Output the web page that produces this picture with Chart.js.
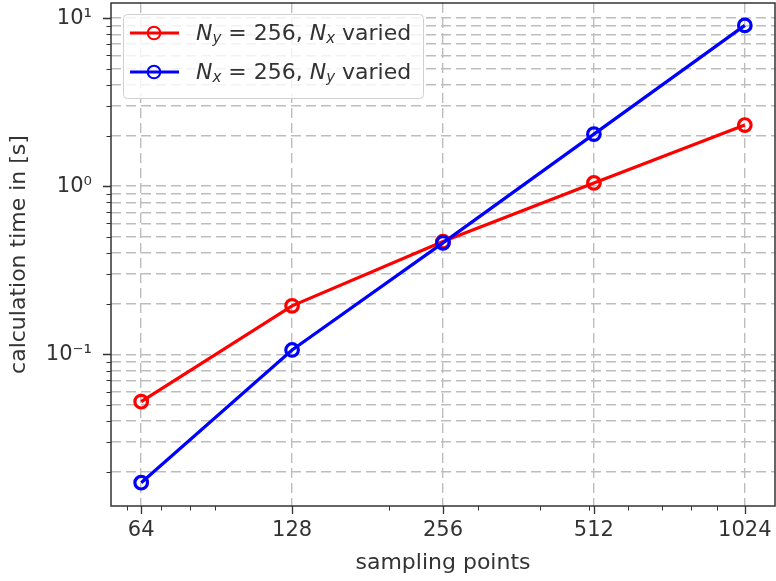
<!DOCTYPE html>
<html>
<head>
<meta charset="utf-8">
<title>calculation time vs sampling points</title>
<script src="https://cdn.jsdelivr.net/npm/chart.js@4.4.1/dist/chart.umd.min.js"></script>
<style>
  html, body { margin: 0; padding: 0; background: #fff; }
  #wrap { width: 776px; height: 581px; position: relative; }
</style>
</head>
<body>
<div id="wrap"><canvas id="timing"></canvas></div>
<script>
// ===== DATA =====
const samplingPoints = [64, 128, 256, 512, 1024];
// Ny = 256 fixed, Nx varied (seconds)
const timeNxVaried = [0.0522, 0.194, 0.468, 1.045, 2.31];
// Nx = 256 fixed, Ny varied (seconds)
const timeNyVaried = [0.0172, 0.106, 0.460, 2.04, 9.05];

const xTickValues = [64, 128, 256, 512, 1024];
const xTickLabels = ['64', '128', '256', '512', '1024'];
const xMinorValues = [60, 70, 80, 90, 200, 300, 400, 500, 600, 700, 800, 900];
const yDecadeValues = [0.1, 1, 10];
const yDecadeLabels = ['10⁻¹', '10⁰', '10¹'];
const yMinorValues = [0.02, 0.03, 0.04, 0.05, 0.06, 0.07, 0.08, 0.09,
                      0.2, 0.3, 0.4, 0.5, 0.6, 0.7, 0.8, 0.9,
                      2, 3, 4, 5, 6, 7, 8, 9];

// ===== STYLE =====
const FONT = 'DejaVu Sans';
const TEXT = '#333333';
const GRID = '#bdbdbd';
const RED = '#ff0000';
const BLUE = '#0000ff';

// axis limits with a small margin around the data (log space)
const xMin = Math.pow(2, 5.8);
const xMax = Math.pow(2, 10.2);
const yMin = 0.0125;
const yMax = 12.3;

// frame + outward tick marks (major long, minor short)
const frameAndTicks = {
    id: 'frameAndTicks',
    afterDraw(chart) {
        const { ctx, chartArea: a, scales: { x, y } } = chart;
        ctx.save();
        ctx.strokeStyle = TEXT;

        ctx.lineWidth = 1.3;
        ctx.beginPath();
        xTickValues.forEach(v => {
            const px = Math.round(x.getPixelForValue(v)) + 0.5;
            ctx.moveTo(px, a.bottom);
            ctx.lineTo(px, a.bottom + 8);
        });
        yDecadeValues.forEach(v => {
            const py = Math.round(y.getPixelForValue(v)) + 0.5;
            ctx.moveTo(a.left, py);
            ctx.lineTo(a.left - 8, py);
        });
        ctx.stroke();

        ctx.lineWidth = 1;
        ctx.beginPath();
        xMinorValues.forEach(v => {
            const px = Math.round(x.getPixelForValue(v)) + 0.5;
            ctx.moveTo(px, a.bottom);
            ctx.lineTo(px, a.bottom + 4.5);
        });
        yMinorValues.forEach(v => {
            const py = Math.round(y.getPixelForValue(v)) + 0.5;
            ctx.moveTo(a.left, py);
            ctx.lineTo(a.left - 4.5, py);
        });
        ctx.stroke();

        ctx.lineWidth = 1.5;
        ctx.strokeRect(a.left, a.top, a.right - a.left, a.bottom - a.top);
        ctx.restore();
    }
};

// legend with italic N and subscripts
function drawMathLabel(ctx, x, y, parts) {
    parts.forEach(p => {
        if (p.sub) {
            ctx.font = 'italic 15px "' + FONT + '"';
            ctx.fillText(p.text, x, y + 5);
        } else {
            ctx.font = (p.italic ? 'italic ' : '') + '22px "' + FONT + '"';
            ctx.fillText(p.text, x, y);
        }
        x += ctx.measureText(p.text).width;
    });
}

const mathLegend = {
    id: 'mathLegend',
    afterDraw(chart) {
        const ctx = chart.ctx;
        const box = { x: 123.5, y: 14.5, w: 300, h: 84 };
        ctx.save();
        ctx.beginPath();
        ctx.roundRect(box.x, box.y, box.w, box.h, 4);
        ctx.fillStyle = 'rgba(255,255,255,0.8)';
        ctx.fill();
        ctx.strokeStyle = '#d0d0d0';
        ctx.lineWidth = 1;
        ctx.stroke();

        const rows = [
            { color: RED, y: 33, label: [
                { text: 'N', italic: true }, { text: 'y', sub: true },
                { text: ' = 256, ' }, { text: 'N', italic: true }, { text: 'x', sub: true },
                { text: ' varied' }] },
            { color: BLUE, y: 72, label: [
                { text: 'N', italic: true }, { text: 'x', sub: true },
                { text: ' = 256, ' }, { text: 'N', italic: true }, { text: 'y', sub: true },
                { text: ' varied' }] }
        ];
        rows.forEach(r => {
            ctx.strokeStyle = r.color;
            ctx.lineWidth = 3.2;
            ctx.beginPath();
            ctx.moveTo(130, r.y);
            ctx.lineTo(179, r.y);
            ctx.stroke();
            ctx.lineWidth = 2;
            ctx.beginPath();
            ctx.arc(154, r.y, 6.3, 0, Math.PI * 2);
            ctx.stroke();

            ctx.fillStyle = TEXT;
            ctx.textBaseline = 'middle';
            drawMathLabel(ctx, 196, r.y + 1, r.label);
        });
        ctx.restore();
    }
};

// fixed axis sizes
function fixX(s) {
    s.height = 75;
    s.paddingLeft = 0;
    s.paddingRight = 0;
}
function fixY(s) {
    s.width = 111;
    s.paddingTop = 0;
    s.paddingBottom = 0;
}

new Chart(document.getElementById('timing'), {
    type: 'line',
    data: {
        labels: samplingPoints,
        datasets: [
            {
                label: 'Ny = 256, Nx varied',
                data: samplingPoints.map((v, i) => ({ x: v, y: timeNxVaried[i] })),
                borderColor: RED,
                borderWidth: 3.2,
                order: 1
            },
            {
                label: 'Nx = 256, Ny varied',
                data: samplingPoints.map((v, i) => ({ x: v, y: timeNyVaried[i] })),
                borderColor: BLUE,
                borderWidth: 3.2,
                order: 0
            }
        ]
    },
    options: {
        responsive: true,
        maintainAspectRatio: false,
        animation: false,
        devicePixelRatio: 1,
        layout: { autoPadding: false, padding: { top: 3, right: 1, left: 0, bottom: 0 } },
        elements: {
            line: { tension: 0, fill: false },
            point: {
                radius: 6.3,
                hoverRadius: 6.3,
                borderWidth: 2,
                backgroundColor: 'rgba(0,0,0,0)',
                pointStyle: 'circle'
            }
        },
        plugins: {
            legend: { display: false },
            tooltip: { enabled: false }
        },
        scales: {
            x: {
                type: 'logarithmic',
                min: xMin,
                max: xMax,
                bounds: 'data',
                afterFit: fixX,
                afterBuildTicks: s => {
                    s.ticks = xTickValues.map(v => ({ value: v, major: true }));
                },
                grid: {
                    color: GRID,
                    lineWidth: 1.4,
                    drawTicks: false
                },
                border: { display: false, dash: [10, 5] },
                ticks: {
                    autoSkip: false,
                    maxRotation: 0,
                    padding: 12,
                    color: TEXT,
                    font: { family: FONT, size: 21 },
                    callback: v => xTickLabels[xTickValues.indexOf(v)] ?? ''
                },
                title: {
                    display: true,
                    text: 'sampling points',
                    color: TEXT,
                    font: { family: FONT, size: 22 },
                    padding: { top: 0, bottom: 5 }
                }
            },
            y: {
                type: 'logarithmic',
                min: yMin,
                max: yMax,
                bounds: 'data',
                afterFit: fixY,
                afterBuildTicks: s => {
                    s.ticks = yMinorValues.concat(yDecadeValues)
                        .sort((a, b) => a - b)
                        .map(v => ({ value: v, major: yDecadeValues.includes(v) }));
                },
                grid: {
                    color: GRID,
                    lineWidth: 1.4,
                    drawTicks: false
                },
                border: { display: false, dash: [10, 5] },
                ticks: {
                    autoSkip: false,
                    padding: 19,
                    color: TEXT,
                    font: { family: FONT, size: 21 },
                    callback: v => yDecadeLabels[yDecadeValues.indexOf(v)] ?? ''
                },
                title: {
                    display: true,
                    text: 'calculation time in [s]',
                    color: TEXT,
                    font: { family: FONT, size: 22 },
                    padding: { top: 6, bottom: 0 }
                }
            }
        }
    },
    plugins: [frameAndTicks, mathLegend]
});
</script>
</body>
</html>
